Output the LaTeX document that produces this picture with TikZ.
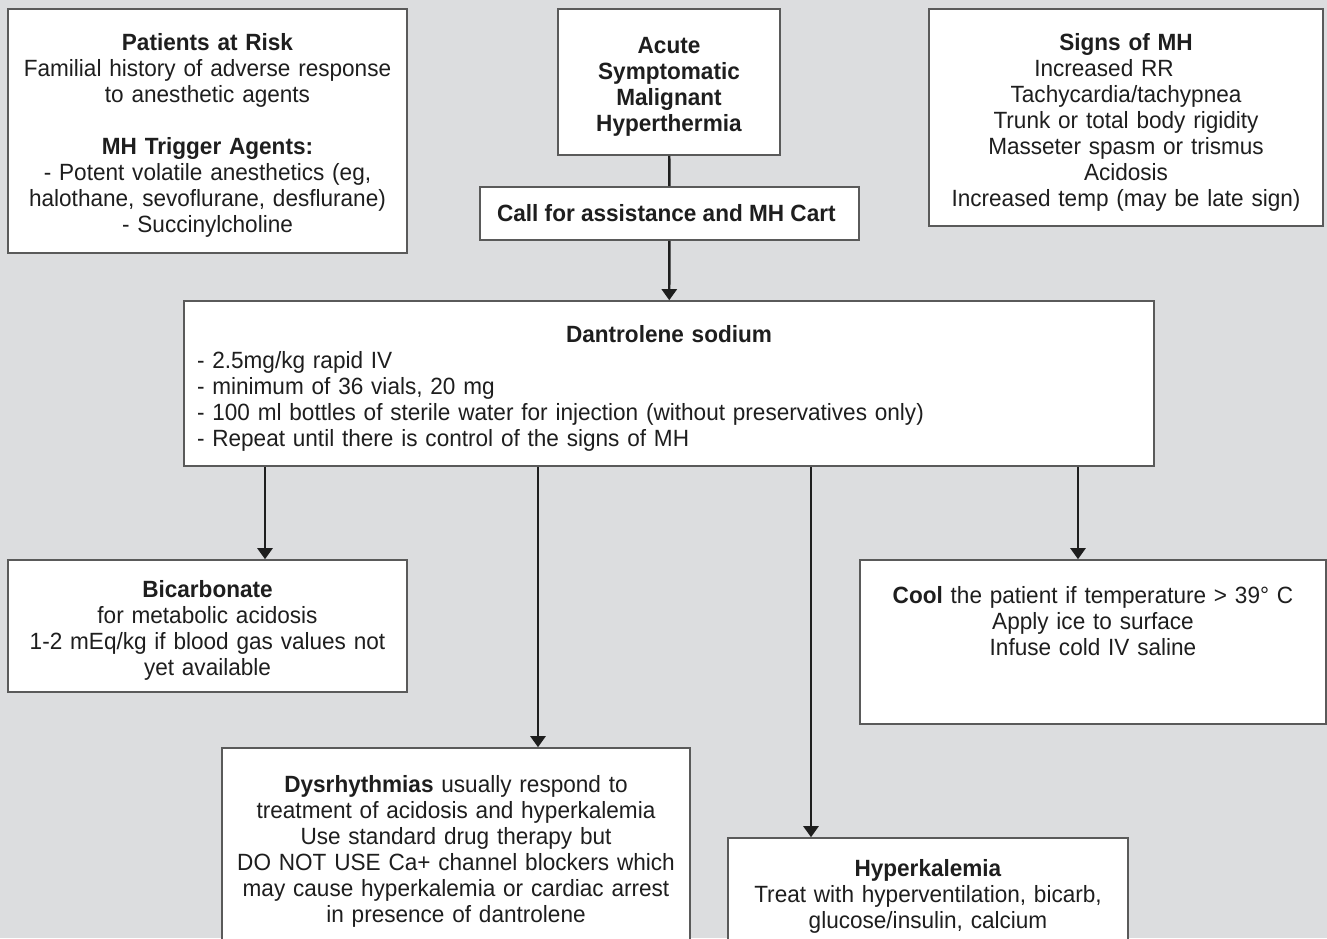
\documentclass[tikz,border=0pt]{standalone}
\usepackage{fontspec}
\setmainfont[FakeStretch=0.96]{Liberation Sans}
\usetikzlibrary{arrows.meta}
\definecolor{bggray}{HTML}{DCDDDF}
\definecolor{edgegray}{HTML}{5A5A5A}
\definecolor{inkgray}{HTML}{1E1E1E}
\begin{document}
\begin{tikzpicture}[x=1pt, y=-1pt,
        every node/.style = {font=\fontsize{23.5}{26}\selectfont, text=inkgray},
        box/.style = {shape=rectangle, draw=edgegray, line width=1.6pt, fill=white, align=center, inner sep=0pt},
        tall/.style = {box, text width=#1, execute at begin node={\rule{0pt}{26pt}}},
        arr/.style = {draw=inkgray, line width=2.4pt, -{Triangle[width=15pt,length=11pt]}}]
    \fill[bggray] (0,0) rectangle (1327,938);
    \clip (0,0) rectangle (1327,938);
    % top row
    \node[tall=390pt, minimum width=399pt, minimum height=244pt] (risk) at (207.5,131) {
        \textbf{Patients at Risk} \\
        Familial history of adverse response \\
        to anesthetic agents \\
        \mbox{} \\
        \textbf{MH Trigger Agents:} \\
        - Potent volatile anesthetics (eg, \\
        halothane, sevoflurane, desflurane) \\
        - Succinylcholine
    };
    \node[tall=210pt, minimum width=222pt, minimum height=146pt] (acute) at (669,82) {
        \textbf{Acute} \\
        \textbf{Symptomatic} \\
        \textbf{Malignant} \\
        \textbf{Hyperthermia}
    };
    \node[box, minimum width=379pt, minimum height=53pt] (call) at (669.5,213.5) {
        \textbf{Call for assistance and MH Cart}
    };
    \node[tall=385pt, minimum width=394pt, minimum height=217pt] (signs) at (1126,117.5) {
        \textbf{Signs of MH} \\
        Increased RR\kern44pt \\
        Tachycardia/tachypnea \\
        Trunk or total body rigidity \\
        Masseter spasm or trismus \\
        Acidosis \\
        Increased temp (may be late sign)
    };
    % dantrolene
    \node[tall=944pt, minimum width=970pt, minimum height=165pt, align=left] (dant) at (669,383.5) {
        \makebox[\hsize]{\textbf{Dantrolene sodium}} \\
        - 2.5mg/kg rapid IV \\
        - minimum of 36 vials, 20 mg \\
        - 100 ml bottles of sterile water for injection (without preservatives only) \\
        - Repeat until there is control of the signs of MH
    };
    % treatments
    \node[tall=390pt, minimum width=399pt, minimum height=132pt] (bicarb) at (207.5,626) {
        \textbf{Bicarbonate} \\
        for metabolic acidosis \\
        1-2 mEq/kg if blood gas values not \\
        yet available
    };
    \node[tall=456pt, minimum width=466pt, minimum height=164pt] (cool) at (1093,642) {
        \textbf{Cool} the patient if temperature > 39° C \\
        Apply ice to surface \\
        Infuse cold IV saline \\
        \mbox{} \\
        \mbox{}
    };
    \node[tall=460pt, minimum width=468pt, minimum height=198pt] (dys) at (456,847) {
        \textbf{Dysrhythmias} usually respond to \\
        treatment of acidosis and hyperkalemia \\
        Use standard drug therapy but \\
        DO NOT USE Ca+ channel blockers which \\
        may cause hyperkalemia or cardiac arrest \\
        in presence of dantrolene
    };
    \node[tall=390pt, minimum width=400pt, minimum height=108pt] (hyper) at (928,892) {
        \textbf{Hyperkalemia} \\
        Treat with hyperventilation, bicarb, \\
        glucose/insulin, calcium
    };
    % connectors
    \draw[draw=inkgray, line width=2.4pt] (acute) -- (call);
    \draw[arr] (call) -- (dant);
    \draw[arr] (dant.south -| 265,0) -- (bicarb.north -| 265,0);
    \draw[arr] (dant.south -| 538,0) -- (dys.north -| 538,0);
    \draw[arr] (dant.south -| 811,0) -- (hyper.north -| 811,0);
    \draw[arr] (dant.south -| 1078,0) -- (cool.north -| 1078,0);
\end{tikzpicture}
\end{document}
